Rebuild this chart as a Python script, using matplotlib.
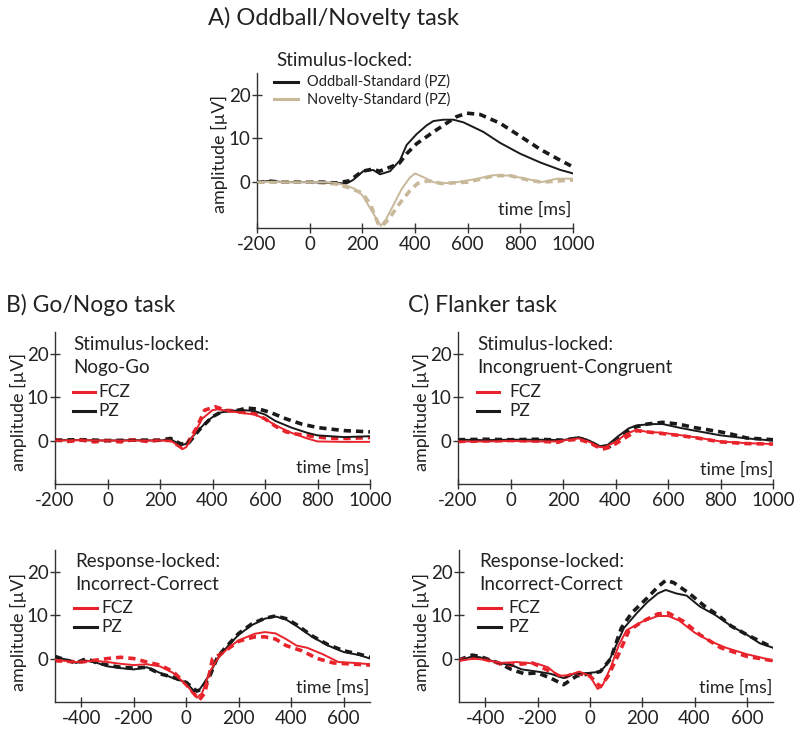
import matplotlib
matplotlib.use("Agg")
import matplotlib.pyplot as plt
from matplotlib.lines import Line2D

plt.rcParams['font.family'] = ['Lato', 'DejaVu Sans']
plt.rcParams['axes.unicode_minus'] = False

RED = '#e8232b'
TAN = '#c9b99b'
BLK = '#1a1a1a'

# ---------------- Panel A: Oddball / Novelty (stimulus-locked, PZ) ----------------
a_odd_solid_t = [-200, -150, -100, -50, 0, 50, 100, 140, 165, 203, 241, 267, 305, 343, 368, 406, 444, 470, 508, 546, 584, 660, 723, 800, 876, 952, 1000]
a_odd_solid_v = [0.0, 0.3, 0.0, 0.0, 0.0, -0.1, -0.2, -0.3, 0.5, 2.5, 2.8, 1.8, 2.5, 5.0, 8.5, 11.0, 13.0, 14.0, 14.3, 14.3, 13.7, 11.5, 9.0, 6.5, 4.5, 2.8, 2.0]
a_odd_dash_t = [-200, -150, -100, -50, 0, 50, 100, 150, 200, 240, 265, 300, 340, 368, 406, 470, 520, 558, 597, 647, 723, 800, 876, 952, 1000]
a_odd_dash_v = [0.0, 0.2, 0.0, 0.1, 0.0, 0.0, -0.2, 0.3, 2.5, 3.0, 2.5, 3.3, 4.3, 6.5, 8.8, 11.5, 13.5, 15.0, 15.8, 15.5, 13.5, 10.5, 7.5, 5.0, 3.5]
a_nov_solid_t = [-200, -150, -100, -50, 0, 50, 100, 140, 170, 200, 230, 255, 270, 290, 320, 350, 380, 400, 430, 470, 500, 560, 620, 700, 760, 820, 880, 940, 1000]
a_nov_solid_v = [0.0, 0.1, 0.0, 0.0, 0.0, 0.0, -0.2, -0.8, -1.5, -3.0, -6.0, -8.5, -10.0, -8.5, -5.0, -1.5, 1.0, 2.0, 1.2, 0.0, -0.3, 0.0, 0.6, 1.6, 1.5, 0.8, 0.0, 0.8, 0.8]
a_nov_dash_t = [-200, -150, -100, -50, 0, 50, 100, 150, 200, 230, 260, 275, 300, 340, 380, 410, 450, 500, 600, 700, 760, 830, 880, 950, 1000]
a_nov_dash_v = [0.0, 0.0, 0.0, 0.0, 0.0, -0.2, -0.4, -1.3, -2.5, -5.0, -9.5, -10.0, -8.5, -5.0, -2.0, -0.3, 0.3, -0.3, 0.0, 1.5, 1.5, 0.5, 0.0, 0.3, 0.5]

# ---------------- Panel B: Go/Nogo, stimulus-locked (Nogo-Go) ----------------
b_stim_fcz_solid_t = [-200, -100, 0, 100, 200, 240, 260, 285, 300, 330, 360, 400, 420, 460, 520, 560, 600, 640, 700, 760, 800, 900, 1000]
b_stim_fcz_solid_v = [0.0, 0.1, 0.0, 0.0, 0.0, 0.0, -0.8, -2.0, -1.5, 1.5, 5.0, 7.0, 7.2, 6.8, 6.3, 6.0, 5.0, 3.5, 1.8, 0.5, -0.2, -0.3, -0.3]
b_stim_fcz_dash_t = [-200, -150, -100, -50, 0, 50, 100, 150, 200, 240, 280, 300, 340, 370, 410, 450, 500, 560, 600, 640, 680, 720, 800, 860, 920, 1000]
b_stim_fcz_dash_v = [0.2, -0.2, 0.1, -0.3, 0.0, -0.3, 0.2, -0.2, 0.1, 0.0, -1.5, -1.0, 3.0, 7.0, 7.8, 7.0, 6.6, 6.2, 5.0, 3.3, 2.0, 1.5, 0.8, 0.5, 0.5, 0.7]
b_stim_pz_solid_t = [-200, -100, 0, 100, 200, 240, 280, 300, 340, 380, 420, 460, 520, 560, 600, 640, 700, 760, 800, 900, 1000]
b_stim_pz_solid_v = [0.1, 0.1, 0.0, 0.1, 0.0, 0.3, -1.0, -0.8, 2.0, 4.5, 6.3, 6.8, 7.0, 6.8, 6.0, 4.5, 3.0, 1.8, 1.2, 0.8, 1.0]
b_stim_pz_dash_t = [-200, -100, 0, 100, 200, 240, 280, 310, 350, 400, 440, 500, 530, 580, 620, 680, 740, 800, 900, 1000]
b_stim_pz_dash_v = [0.1, 0.2, 0.0, 0.1, 0.1, 0.5, -0.8, -0.5, 2.5, 5.5, 6.8, 7.0, 7.5, 7.2, 6.5, 5.0, 3.8, 3.0, 2.3, 2.0]

# ---------------- Panel C: Flanker, stimulus-locked (Incongruent-Congruent) ----------------
c_stim_fcz_solid_t = [-200, -100, 0, 100, 170, 200, 260, 300, 340, 360, 400, 440, 480, 520, 580, 640, 700, 760, 800, 900, 1000]
c_stim_fcz_solid_v = [-0.2, -0.2, -0.1, -0.2, -0.2, 0.0, 0.5, -0.3, -1.5, -1.5, -0.3, 1.5, 2.5, 2.0, 1.8, 1.3, 0.8, 0.2, -0.2, -0.6, -0.8]
c_stim_fcz_dash_t = [-200, -100, 0, 100, 180, 200, 260, 300, 350, 380, 420, 460, 480, 520, 580, 640, 700, 760, 800, 900, 1000]
c_stim_fcz_dash_v = [-0.2, -0.1, 0.0, -0.1, -0.4, 0.0, 0.3, -0.5, -2.0, -1.5, 0.0, 1.5, 2.3, 2.0, 1.6, 1.2, 0.7, 0.1, -0.3, -0.7, -0.8]
c_stim_pz_solid_t = [-200, -100, 0, 100, 200, 260, 300, 340, 370, 410, 450, 480, 540, 580, 640, 700, 800, 900, 1000]
c_stim_pz_solid_v = [0.2, 0.1, 0.2, 0.2, 0.1, 0.8, 0.0, -1.3, -1.0, 1.0, 2.8, 3.5, 3.8, 3.8, 3.0, 2.3, 1.2, 0.5, 0.0]
c_stim_pz_dash_t = [-200, -100, 0, 100, 200, 260, 300, 340, 380, 420, 470, 520, 580, 640, 700, 800, 840, 900, 1000]
c_stim_pz_dash_v = [0.2, 0.3, 0.2, 0.3, 0.1, 0.6, -0.2, -1.5, -1.3, 0.8, 3.0, 3.8, 4.2, 3.8, 3.0, 2.0, 1.5, 0.6, 0.2]

# ---------------- Panel B: Go/Nogo, response-locked (Incorrect-Correct) ----------------
b_resp_pz_solid_t = [-500, -450, -420, -380, -340, -300, -250, -200, -150, -100, -50, 0, 30, 50, 80, 120, 160, 200, 250, 300, 340, 380, 420, 480, 540, 600, 660, 700]
b_resp_pz_solid_v = [0.3, -0.3, -1.0, -0.5, -1.0, -1.8, -2.2, -2.5, -2.0, -3.3, -4.5, -5.5, -7.5, -7.2, -4.5, 0.0, 3.0, 5.5, 7.7, 9.2, 9.7, 9.0, 7.5, 5.0, 3.0, 1.5, 0.8, 0.0]
b_resp_pz_dash_t = [-500, -450, -420, -380, -340, -300, -250, -200, -150, -100, -50, 0, 40, 60, 90, 120, 160, 200, 250, 300, 340, 380, 420, 480, 540, 600, 660, 700]
b_resp_pz_dash_v = [0.5, -0.5, -1.0, 0.0, -1.0, -1.5, -2.0, -2.2, -2.0, -3.5, -4.3, -5.5, -7.5, -7.0, -4.0, 0.5, 3.2, 5.8, 8.0, 9.3, 9.8, 9.2, 7.8, 5.2, 3.2, 1.8, 1.0, 0.3]
b_resp_fcz_solid_t = [-500, -420, -350, -300, -250, -200, -150, -100, -50, 0, 40, 60, 90, 120, 160, 200, 260, 300, 340, 380, 420, 460, 520, 580, 640, 700]
b_resp_fcz_solid_v = [-0.3, -0.8, -0.5, -0.8, -1.2, -1.5, -1.3, -1.8, -3.3, -6.0, -9.0, -8.0, -3.0, 0.0, 2.5, 4.2, 5.7, 6.1, 5.8, 4.5, 3.0, 2.5, 1.0, -0.8, -1.0, -1.3]
b_resp_fcz_dash_t = [-500, -400, -300, -250, -200, -150, -100, -50, 0, 50, 70, 90, 100, 130, 200, 260, 300, 340, 380, 440, 500, 560, 640, 700]
b_resp_fcz_dash_v = [-0.5, -0.8, 0.0, 0.3, 0.0, -0.8, -1.5, -3.0, -6.0, -9.5, -8.0, -3.0, 0.0, 1.0, 4.0, 5.0, 5.0, 4.5, 3.0, 1.8, 0.0, -1.0, -1.3, -1.5]

# ---------------- Panel C: Flanker, response-locked (Incorrect-Correct) ----------------
c_resp_pz_solid_t = [-500, -450, -420, -350, -300, -260, -200, -150, -100, -60, 0, 40, 70, 100, 130, 180, 220, 260, 290, 330, 370, 420, 480, 540, 600, 650, 700]
c_resp_pz_solid_v = [-0.5, 0.5, 0.3, -1.0, -1.5, -2.5, -3.0, -3.5, -4.5, -3.5, -3.3, -3.0, -1.0, 3.0, 7.0, 10.5, 13.0, 15.0, 15.8, 15.0, 14.5, 12.0, 10.0, 7.5, 5.5, 3.5, 2.5]
c_resp_pz_dash_t = [-500, -450, -420, -350, -300, -250, -200, -150, -100, -50, 0, 40, 80, 120, 160, 220, 260, 290, 320, 380, 440, 490, 540, 600, 700]
c_resp_pz_dash_v = [-0.3, 0.8, 0.5, -1.0, -2.5, -3.5, -3.3, -4.5, -6.0, -4.0, -3.5, -3.0, 0.0, 7.0, 10.5, 14.0, 16.5, 18.0, 17.5, 15.0, 12.0, 10.0, 7.5, 5.5, 2.5]
c_resp_fcz_solid_t = [-500, -440, -400, -340, -280, -200, -160, -120, -80, -40, 0, 30, 50, 80, 110, 140, 200, 260, 300, 340, 400, 460, 520, 600, 650, 700]
c_resp_fcz_solid_v = [-0.5, 0.0, -0.3, -1.0, -0.8, -1.2, -2.0, -4.0, -3.8, -3.0, -4.0, -7.0, -6.0, -2.0, 3.0, 6.5, 8.5, 9.8, 9.8, 8.8, 6.0, 4.0, 2.5, 1.0, 0.3, -0.5]
c_resp_fcz_dash_t = [-500, -440, -400, -340, -300, -220, -150, -100, -60, 0, 40, 70, 110, 150, 200, 260, 300, 360, 420, 500, 600, 700]
c_resp_fcz_dash_v = [-0.3, 0.2, -0.2, -1.2, -1.5, -1.0, -3.0, -4.5, -3.3, -4.0, -6.5, -4.0, 1.0, 6.5, 8.5, 10.3, 10.5, 8.5, 5.5, 2.5, 0.5, -0.5]

stim_ticks = [-200, 0, 200, 400, 600, 800, 1000]
resp_ticks = [-400, -200, 0, 200, 400, 600]
y_ticks = [0, 10, 20]

W, H = 800, 730
fig = plt.figure(figsize=(W / 100, H / 100), dpi=100)

TXT = '#222222'
TITLE_FS = 16.5
HEAD_FS = 13.5
LEG_FS = 12.5
LEG_A_FS = 10.5
TICK_FS = 13.5
LAB_FS = 13


def px_axes(left, top, right, bottom):
    return fig.add_axes([left / W, 1 - bottom / H, (right - left) / W, (bottom - top) / H])


def ftext(x, y, s, size, **kw):
    fig.text(x / W, 1 - y / H, s, fontsize=size, va='center', color=TXT, **kw)


def legend_line(x0, x1, y, color):
    fig.add_artist(Line2D([x0 / W, x1 / W], [1 - y / H, 1 - y / H], color=color, lw=2.2,
                          transform=fig.transFigure))


def style(ax, xlim, xticks, ylim):
    ax.set_xlim(*xlim)
    ax.set_ylim(*ylim)
    ax.set_xticks(xticks)
    ax.set_yticks(y_ticks)
    for s in ('top', 'right'):
        ax.spines[s].set_visible(False)
    for s in ('left', 'bottom'):
        ax.spines[s].set_color('#333333')
        ax.spines[s].set_linewidth(1.0)
    ax.tick_params(axis='both', direction='inout', length=7, width=1.0, labelsize=TICK_FS,
                   colors='#333333', labelcolor=TXT)
    ax.tick_params(axis='x', pad=2)
    ax.tick_params(axis='y', pad=1)
    ax.patch.set_alpha(0)


DASH = (0, (2.0, 1.4))


def trace(ax, t, v, color, dashed):
    if dashed:
        ax.plot(t, v, color=color, lw=2.6, linestyle=DASH, solid_capstyle='butt', zorder=2)
    else:
        ax.plot(t, v, color=color, lw=1.4, zorder=3)


def add_labels(ylab_x, ylab_y, time_x, time_y):
    fig.text(ylab_x / W, 1 - ylab_y / H, 'amplitude [µV]', rotation=90, fontsize=LAB_FS,
             ha='center', va='center', color=TXT)
    fig.text(time_x / W, 1 - time_y / H, 'time [ms]', fontsize=LAB_FS, ha='right', va='center',
             color=TXT)


# ---------- Panel A ----------
axA = px_axes(257, 73, 573, 228)
trace(axA, a_odd_dash_t, a_odd_dash_v, BLK, True)
trace(axA, a_nov_dash_t, a_nov_dash_v, TAN, True)
trace(axA, a_odd_solid_t, a_odd_solid_v, BLK, False)
trace(axA, a_nov_solid_t, a_nov_solid_v, TAN, False)
style(axA, (-200, 1000), stim_ticks, (-10.5, 25))
ftext(208, 18, 'A) Oddball/Novelty task', 17)
ftext(276, 60, 'Stimulus-locked:', HEAD_FS)
legend_line(274, 298, 82, BLK)
legend_line(274, 298, 99, TAN)
ftext(307, 82, 'Oddball-Standard (PZ)', LEG_A_FS)
ftext(307, 99, 'Novelty-Standard (PZ)', LEG_A_FS)
add_labels(219, 154, 571, 210)

# ---------- Panel B stim ----------
axBs = px_axes(55, 332, 370, 484)
trace(axBs, b_stim_pz_dash_t, b_stim_pz_dash_v, BLK, True)
trace(axBs, b_stim_fcz_dash_t, b_stim_fcz_dash_v, RED, True)
trace(axBs, b_stim_pz_solid_t, b_stim_pz_solid_v, BLK, False)
trace(axBs, b_stim_fcz_solid_t, b_stim_fcz_solid_v, RED, False)
style(axBs, (-200, 1000), stim_ticks, (-10, 25))
ftext(6, 305, 'B) Go/Nogo task', TITLE_FS)
ftext(73, 345, 'Stimulus-locked:', HEAD_FS)
ftext(73, 368, 'Nogo-Go', HEAD_FS)
legend_line(73, 95, 392, RED)
legend_line(73, 95, 411, BLK)
ftext(98, 392, 'FCZ', LEG_FS)
ftext(98, 411, 'PZ', LEG_FS)
add_labels(18, 412, 369, 468)

# ---------- Panel C stim ----------
axCs = px_axes(458, 332, 773, 484)
trace(axCs, c_stim_pz_dash_t, c_stim_pz_dash_v, BLK, True)
trace(axCs, c_stim_fcz_dash_t, c_stim_fcz_dash_v, RED, True)
trace(axCs, c_stim_pz_solid_t, c_stim_pz_solid_v, BLK, False)
trace(axCs, c_stim_fcz_solid_t, c_stim_fcz_solid_v, RED, False)
style(axCs, (-200, 1000), stim_ticks, (-10, 25))
ftext(408, 305, 'C) Flanker task', TITLE_FS)
ftext(477, 345, 'Stimulus-locked:', HEAD_FS)
ftext(477, 368, 'Incongruent-Congruent', HEAD_FS)
legend_line(477, 499, 392, RED)
legend_line(477, 499, 411, BLK)
ftext(509, 392, 'FCZ', LEG_FS)
ftext(509, 411, 'PZ', LEG_FS)
add_labels(421, 412, 773, 470)

# ---------- Panel B resp ----------
axBr = px_axes(55, 550, 370, 702)
trace(axBr, b_resp_pz_dash_t, b_resp_pz_dash_v, BLK, True)
trace(axBr, b_resp_fcz_dash_t, b_resp_fcz_dash_v, RED, True)
trace(axBr, b_resp_pz_solid_t, b_resp_pz_solid_v, BLK, False)
trace(axBr, b_resp_fcz_solid_t, b_resp_fcz_solid_v, RED, False)
style(axBr, (-500, 700), resp_ticks, (-10, 25))
ftext(75, 561, 'Response-locked:', HEAD_FS)
ftext(75, 585, 'Incorrect-Correct', HEAD_FS)
legend_line(74, 97, 608, RED)
legend_line(74, 97, 627, BLK)
ftext(101, 608, 'FCZ', LEG_FS)
ftext(101, 627, 'PZ', LEG_FS)
add_labels(18, 632, 369, 688)

# ---------- Panel C resp ----------
axCr = px_axes(459, 550, 773, 702)
trace(axCr, c_resp_pz_dash_t, c_resp_pz_dash_v, BLK, True)
trace(axCr, c_resp_fcz_dash_t, c_resp_fcz_dash_v, RED, True)
trace(axCr, c_resp_pz_solid_t, c_resp_pz_solid_v, BLK, False)
trace(axCr, c_resp_fcz_solid_t, c_resp_fcz_solid_v, RED, False)
style(axCr, (-500, 700), resp_ticks, (-10, 25))
ftext(479, 561, 'Response-locked:', HEAD_FS)
ftext(479, 585, 'Incorrect-Correct', HEAD_FS)
legend_line(478, 501, 608, RED)
legend_line(478, 501, 627, BLK)
ftext(508, 608, 'FCZ', LEG_FS)
ftext(508, 627, 'PZ', LEG_FS)
add_labels(421, 632, 772, 688)

fig.savefig('out.png', dpi=100)
